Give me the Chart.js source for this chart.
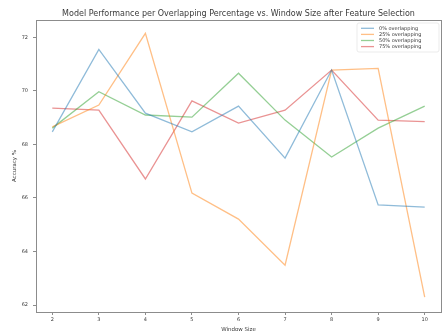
<!DOCTYPE html>
<html>
<head>
<meta charset="utf-8">
<script src="https://cdn.jsdelivr.net/npm/chart.js@4"></script>
<style>
  html, body { margin: 0; padding: 0; background: #fff; }
  #wrap { width: 442px; height: 334px; }
</style>
</head>
<body>
<div id="wrap"><canvas id="c"></canvas></div>
<script>
// Window sizes on the x axis
const windowSizes = [2, 3, 4, 5, 6, 7, 8, 9, 10];

// Accuracy (%) per window size for each overlapping percentage
const overlap0  = [68.47, 71.55, 69.17, 68.47, 69.43, 67.49, 70.78, 65.74, 65.66];
const overlap25 = [68.66, 69.47, 72.15, 66.18, 65.21, 63.49, 70.78, 70.84, 62.30];
const overlap50 = [68.61, 69.97, 69.10, 69.02, 70.66, 68.91, 67.53, 68.61, 69.43];
const overlap75 = [69.36, 69.28, 66.71, 69.63, 68.80, 69.28, 70.78, 68.91, 68.85];

const seriesLabels = ['0% overlapping', '25% overlapping', '50% overlapping', '75% overlapping'];
const yTicks = [62, 64, 66, 68, 70, 72];

const chartTitle = 'Model Performance per Overlapping Percentage vs. Window Size after Feature Selection';
const xTitle = 'Window Size';
const yTitle = 'Accuracy %';

const colors = [
  'rgba(31,119,180,0.5)',
  'rgba(255,127,14,0.5)',
  'rgba(44,160,44,0.5)',
  'rgba(214,39,40,0.5)'
];

const FONT = 'DejaVu Sans';
const TEXT = '#3a3a3a';
const SPINE = '#8c8c8c';

function toPoints(values) {
  return values.map((v, i) => ({ x: windowSizes[i], y: v }));
}

const allSeries = [overlap0, overlap25, overlap50, overlap75];
const datasets = allSeries.map((vals, i) => ({
  label: seriesLabels[i],
  data: toPoints(vals),
  borderColor: colors[i],
  backgroundColor: colors[i],
  borderWidth: 1.3,
  pointRadius: 0,
  tension: 0,
  fill: false
}));

// Legend drawn inside the plot, upper right, with line handles
const innerLegend = {
  id: 'innerLegend',
  afterDatasetsDraw(chart) {
    const ctx = chart.ctx;
    const area = chart.chartArea;
    const x0 = area.right - 84, y0 = area.top + 3;
    const w = 82, h = 29;
    ctx.save();
    ctx.fillStyle = 'rgba(255,255,255,0.8)';
    ctx.strokeStyle = '#e6e6e6';
    ctx.lineWidth = 0.8;
    ctx.beginPath();
    ctx.roundRect(x0, y0, w, h, 2);
    ctx.fill();
    ctx.stroke();
    ctx.font = '5px "' + FONT + '"';
    ctx.textBaseline = 'middle';
    ctx.textAlign = 'left';
    chart.data.datasets.forEach((ds, i) => {
      const y = y0 + 5.3 + i * 6.1;
      ctx.strokeStyle = ds.borderColor;
      ctx.lineWidth = 1.3;
      ctx.beginPath();
      ctx.moveTo(x0 + 4, y);
      ctx.lineTo(x0 + 17, y);
      ctx.stroke();
      ctx.fillStyle = TEXT;
      ctx.fillText(ds.label, x0 + 22, y);
    });
    ctx.restore();
  }
};

new Chart(document.getElementById('c'), {
  type: 'line',
  data: { datasets },
  options: {
    responsive: true,
    maintainAspectRatio: false,
    animation: false,
    layout: { padding: { left: 0, right: 0, top: 0, bottom: 0 } },
    plugins: {
      legend: { display: false },
      title: { display: false },
      tooltip: { enabled: false }
    },
    scales: {
      x: {
        type: 'linear',
        position: 'bottom',
        min: 1.65,
        max: 10.35,
        afterBuildTicks: (axis) => { axis.ticks = windowSizes.map(v => ({ value: v })); },
        afterFit: (axis) => { axis.height = 22; },
        grid: { display: true, drawOnChartArea: false, drawTicks: true, tickLength: 3, color: SPINE, tickColor: SPINE },
        border: { display: true, color: SPINE, width: 1 },
        ticks: { color: TEXT, font: { family: FONT, size: 5 }, padding: 2, maxRotation: 0 },
        title: { display: true, text: xTitle, color: TEXT, font: { family: FONT, size: 5.5 }, padding: { top: 0, bottom: 0.8 } }
      },
      xTop: {
        type: 'linear',
        position: 'top',
        min: 0, max: 1,
        afterFit: (axis) => { axis.height = 20; },
        grid: { display: false, drawTicks: false },
        border: { display: true, color: SPINE, width: 1 },
        ticks: { display: false },
        title: { display: true, text: chartTitle, color: TEXT, font: { family: FONT, size: 8 }, padding: { top: 9.2, bottom: 0 } }
      },
      y: {
        type: 'linear',
        position: 'left',
        min: 61.74,
        max: 72.65,
        afterBuildTicks: (axis) => { axis.ticks = yTicks.map(v => ({ value: v })); },
        afterFit: (axis) => { axis.width = 36; },
        grid: { display: true, drawOnChartArea: false, drawTicks: true, tickLength: 3, color: SPINE, tickColor: SPINE },
        border: { display: true, color: SPINE, width: 1 },
        ticks: { color: TEXT, font: { family: FONT, size: 5 }, padding: 5 },
        title: { display: true, text: yTitle, color: TEXT, font: { family: FONT, size: 5.5 }, padding: { top: 11.7, bottom: 0 } }
      },
      yRight: {
        type: 'linear',
        position: 'right',
        min: 0, max: 1,
        afterFit: (axis) => { axis.width = 1; },
        grid: { display: false, drawTicks: false },
        border: { display: true, color: SPINE, width: 1 },
        ticks: { display: false }
      }
    }
  },
  plugins: [innerLegend]
});
</script>
</body>
</html>
